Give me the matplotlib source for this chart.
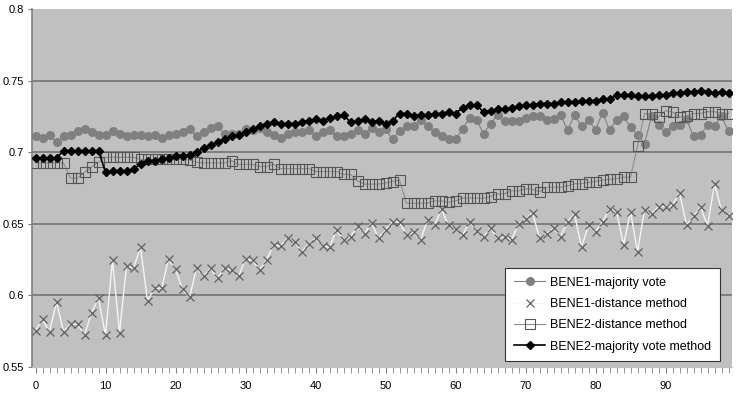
import numpy as np
import matplotlib.pyplot as plt

# Values (x = 0..99)
runs = np.arange(100)

bene1_majority = [
    0.711, 0.710, 0.712, 0.707, 0.711, 0.712, 0.715, 0.716, 0.714, 0.712,
    0.712, 0.715, 0.713, 0.711, 0.712, 0.712, 0.711, 0.712, 0.710, 0.712,
    0.713, 0.714, 0.716, 0.711, 0.714, 0.717, 0.718, 0.713, 0.713, 0.713,
    0.716, 0.7155, 0.717, 0.714, 0.712, 0.710, 0.713, 0.714, 0.714, 0.7155,
    0.711, 0.714, 0.7155, 0.711, 0.711, 0.713, 0.7155, 0.713, 0.717, 0.714,
    0.716, 0.709, 0.715, 0.718, 0.718, 0.7225, 0.718, 0.714, 0.711, 0.709,
    0.709, 0.716, 0.724, 0.7225, 0.713, 0.720, 0.726, 0.722, 0.722, 0.722,
    0.724, 0.725, 0.725, 0.7225, 0.723, 0.726, 0.7155, 0.726, 0.718, 0.7225,
    0.7155, 0.7276, 0.7155, 0.7225, 0.725, 0.7174, 0.712, 0.706, 0.725, 0.719,
    0.7143, 0.718, 0.719, 0.723, 0.711, 0.712, 0.719, 0.718, 0.725, 0.7145,
]

bene1_distance = [
    0.5754, 0.5833, 0.5747, 0.5952, 0.5747, 0.580, 0.580, 0.5723, 0.5879, 0.598,
    0.5723, 0.6247, 0.574, 0.6205, 0.619, 0.6336, 0.5963, 0.605, 0.605, 0.6252,
    0.6182, 0.6043, 0.5987, 0.619, 0.6135, 0.6189, 0.6119, 0.6189, 0.6177, 0.6135,
    0.6252, 0.6245, 0.6177, 0.6248, 0.6352, 0.6345, 0.6399, 0.6376, 0.6305, 0.6357,
    0.6399, 0.6345, 0.6336, 0.6457, 0.6385, 0.6408, 0.6485, 0.643, 0.6506, 0.6399,
    0.6457, 0.6513, 0.6513, 0.642, 0.6443, 0.6385, 0.6527, 0.649, 0.6601, 0.649,
    0.6466, 0.642, 0.6513, 0.645, 0.641, 0.6468, 0.6399, 0.641, 0.6387, 0.6499,
    0.6531, 0.6578, 0.6399, 0.6431, 0.6468, 0.641, 0.6515, 0.6568, 0.6336, 0.6492,
    0.6445, 0.6515, 0.6601, 0.6585, 0.6352, 0.6585, 0.6305, 0.6596, 0.6568, 0.662,
    0.662, 0.6631, 0.6717, 0.6492, 0.6552, 0.662, 0.6485, 0.6778, 0.6596, 0.6552,
]

bene2_distance = [
    0.6925, 0.6925, 0.6925, 0.6925, 0.6925, 0.682, 0.682, 0.686, 0.6895, 0.693,
    0.6965, 0.6965, 0.6965, 0.6965, 0.6965, 0.695, 0.695, 0.695, 0.695, 0.695,
    0.695, 0.695, 0.6945, 0.693, 0.6925, 0.6925, 0.6925, 0.6925, 0.694, 0.6915,
    0.6915, 0.6915, 0.690, 0.690, 0.6915, 0.6885, 0.6885, 0.6885, 0.6885, 0.6885,
    0.6865, 0.6865, 0.6865, 0.6865, 0.6845, 0.6845, 0.680, 0.6777, 0.6777, 0.6777,
    0.6785, 0.6795, 0.6806, 0.6643, 0.6643, 0.6643, 0.6645, 0.666, 0.666, 0.665,
    0.666, 0.668, 0.668, 0.668, 0.668, 0.669, 0.6708, 0.671, 0.673, 0.673,
    0.6745, 0.674, 0.6725, 0.6755, 0.6755, 0.6755, 0.6765, 0.678, 0.678, 0.679,
    0.6795, 0.6806, 0.681, 0.6815, 0.6825, 0.6825, 0.7043, 0.727, 0.727, 0.7245,
    0.729, 0.728, 0.7245, 0.725, 0.727, 0.727, 0.7283, 0.7283, 0.727, 0.727,
]

bene2_majority = [
    0.696, 0.696, 0.696, 0.696, 0.701, 0.701, 0.701, 0.701, 0.701, 0.701,
    0.686, 0.687, 0.687, 0.687, 0.688, 0.692, 0.694, 0.694, 0.695, 0.696,
    0.697, 0.697, 0.698, 0.700, 0.703, 0.705, 0.707, 0.709, 0.711, 0.712,
    0.714, 0.716, 0.718, 0.720, 0.721, 0.720, 0.720, 0.720, 0.721, 0.722,
    0.723, 0.722, 0.724, 0.725, 0.726, 0.721, 0.722, 0.723, 0.721, 0.722,
    0.720, 0.722, 0.727, 0.727, 0.725, 0.726, 0.726, 0.727, 0.727, 0.728,
    0.727, 0.731, 0.733, 0.733, 0.728, 0.729, 0.730, 0.730, 0.731, 0.732,
    0.733, 0.733, 0.734, 0.734, 0.734, 0.735, 0.735, 0.735, 0.736, 0.736,
    0.736, 0.737, 0.737, 0.740, 0.740, 0.740, 0.739, 0.739, 0.739, 0.740,
    0.740, 0.741, 0.741, 0.742, 0.742, 0.743, 0.742, 0.741, 0.742, 0.741,
]

plt.rcParams['font.family'] = ['Liberation Sans', 'DejaVu Sans']

fig = plt.figure(figsize=(7.36, 4.01), dpi=100)
ax = fig.add_axes([32 / 736, 1 - 367 / 401, 700 / 736, 358 / 401])
ax.set_facecolor('#c0c0c0')

# horizontal gridlines like the Excel original
for y in [0.6, 0.65, 0.7, 0.75]:
    ax.axhline(y, color='#7a7a7a', lw=1.3, zorder=1)

ax.plot(runs, bene1_majority, color='#808080', lw=0.8, marker='o', markersize=5.5,
        markerfacecolor='#808080', markeredgecolor='#808080', label='BENE1-majority vote', zorder=2)
ax.plot(runs, bene1_distance, color='#f4f4f4', lw=1.0, marker='x', markersize=5.5,
        markeredgecolor='#606060', markeredgewidth=0.9, label='BENE1-distance method', zorder=3)
ax.plot(runs, bene2_distance, color='#8c8c8c', lw=0.8, marker='s', markersize=6.5,
        markerfacecolor='none', markeredgecolor='#555555', markeredgewidth=0.8,
        label='BENE2-distance method', zorder=4)
ax.plot(runs, bene2_majority, color='black', lw=1.2, marker='D', markersize=4.5,
        markerfacecolor='black', markeredgecolor='black', label='BENE2-majority vote method', zorder=5)

ax.set_xlim(-0.5, 99.5)
ax.set_ylim(0.55, 0.8)
ax.set_yticks([0.55, 0.6, 0.65, 0.7, 0.75, 0.8])
ax.set_yticklabels(['0.55', '0.6', '0.65', '0.7', '0.75', '0.8'])
ax.set_xticks(np.arange(0, 100, 10))
ax.set_xticks(np.arange(0, 100, 1), minor=True)

for side in ['top', 'right']:
    ax.spines[side].set_visible(False)
ax.spines['left'].set_color('#808080')
ax.spines['left'].set_linewidth(1.2)
ax.spines['bottom'].set_color('#c0c0c0')

ax.tick_params(axis='y', length=3, color='#808080', labelsize=8, pad=3)
ax.tick_params(axis='x', which='both', length=4, color='#808080', labelsize=8, pad=6)

leg = ax.legend(loc='lower right', bbox_to_anchor=(0.992, -0.002), fontsize=9,
                frameon=True, fancybox=False, framealpha=1, edgecolor='#333333',
                handlelength=2.5, handletextpad=0.4, borderpad=0.7, labelspacing=0.75)
leg.get_frame().set_linewidth(0.8)

fig.savefig('out.png', dpi=100, facecolor='white')
